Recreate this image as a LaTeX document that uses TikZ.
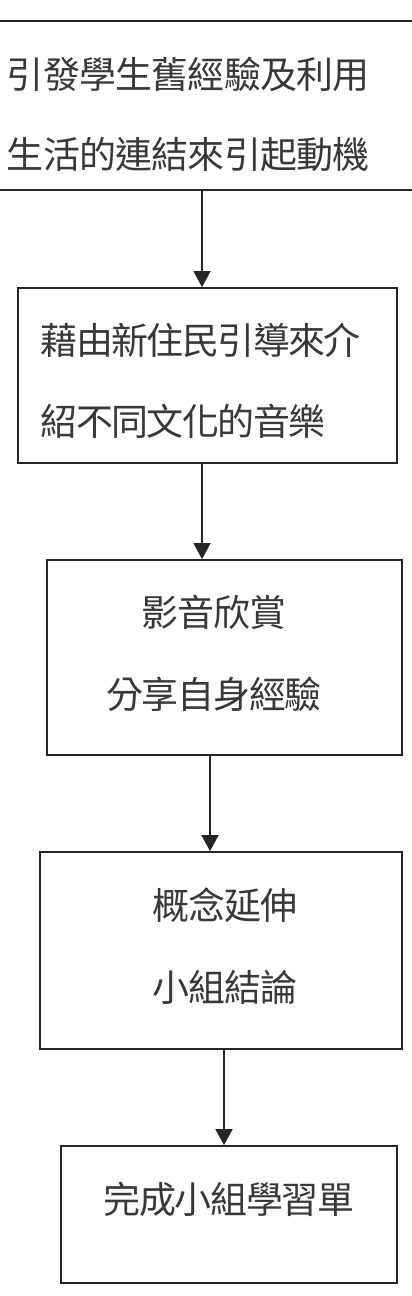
\documentclass[tikz,border=0pt]{standalone}
\usepackage{fontspec}
\usetikzlibrary{arrows.meta}
\newfontfamily\cjk{Noto Sans CJK TC}
\definecolor{ink}{gray}{0.15}
\definecolor{txt}{gray}{0.22}
\newcommand\spreadtxt[2]{\def\pitchw{#1}\spreadloop#2\relax}
\def\spreadloop#1{\ifx#1\relax\else\makebox[\pitchw]{#1}\expandafter\spreadloop\fi}
\tikzset{
  box/.style={draw=ink, line width=1.8pt, inner sep=0pt, fill=none},
  txtstyle/.style={inner sep=0pt, text=txt, font=\cjk\fontsize{37}{80}\selectfont},
  arr/.style={draw=ink, line width=1.8pt, -{Triangle[width=17pt,length=16pt]}}
}
\begin{document}
\begin{tikzpicture}[x=1pt,y=-1pt]
\useasboundingbox (0,0) rectangle (412,1296);
% boxes
\node[box, minimum width=432pt, minimum height=169pt] (b1) at (206,105.5) {};
\node[box, minimum width=379pt, minimum height=175pt] (b2) at (207.5,375.5) {};
\node[box, minimum width=355pt, minimum height=195pt] (b3) at (224.5,657.5) {};
\node[box, minimum width=362pt, minimum height=197pt] (b4) at (221,950.5) {};
\node[box, minimum width=336pt, minimum height=137pt] (b5) at (229,1214.5) {};
% texts
\node[txtstyle, align=left, anchor=west] (t1) at (7,114) {\spreadtxt{36.2pt}{引發學生舊經驗及利用}\\\spreadtxt{36.2pt}{生活的連結來引起動機}};
\node[txtstyle, align=left, anchor=west, font=\cjk\fontsize{37}{81}\selectfont] (t2) at (41.3,380.5) {\spreadtxt{35.4pt}{藉由新住民引導來介}\\\spreadtxt{35.4pt}{紹不同文化的音樂}};
\node[txtstyle, align=center, font=\cjk\fontsize{37}{82}\selectfont] (t3) at (214,653) {\spreadtxt{35.7pt}{影音欣賞}\\\spreadtxt{35.7pt}{分享自身經驗}};
\node[txtstyle, align=center, font=\cjk\fontsize{37}{82}\selectfont] (t4) at (225,946) {\spreadtxt{35.7pt}{概念延伸}\\\spreadtxt{35.7pt}{小組結論}};
\node[txtstyle] (t5) at (229,1199) {\spreadtxt{35.7pt}{完成小組學習單}};
% arrow positions
\coordinate (x1) at (202,0);
\coordinate (x2) at (202,0);
\coordinate (x3) at (210,0);
\coordinate (x4) at (224,0);
\draw[arr] (x1 |- b1.south) -- (x1 |- b2.north);
\draw[arr] (x2 |- b2.south) -- (x2 |- b3.north);
\draw[arr] (x3 |- b3.south) -- (x3 |- b4.north);
\draw[arr] (x4 |- b4.south) -- (x4 |- b5.north);
\end{tikzpicture}
\end{document}
